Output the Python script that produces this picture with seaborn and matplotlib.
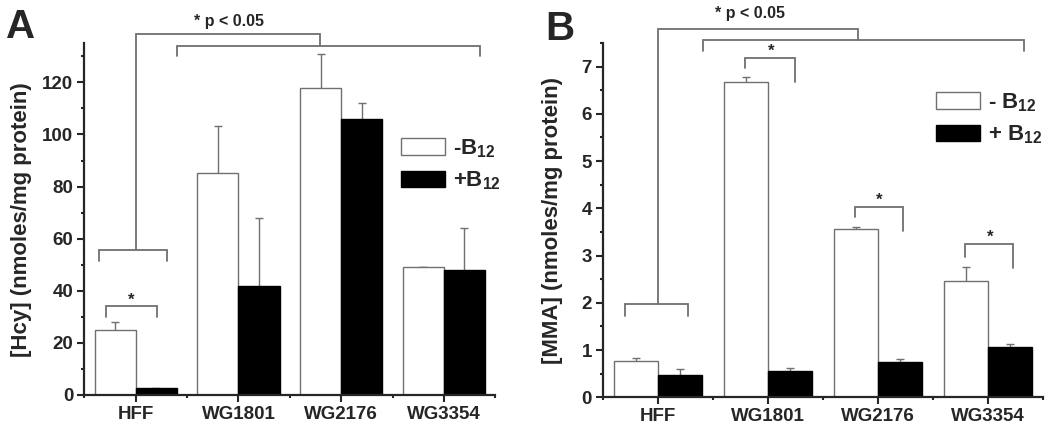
import numpy as np
import pandas as pd
import matplotlib
matplotlib.use("Agg")
import matplotlib.pyplot as plt
from matplotlib.ticker import MultipleLocator, AutoMinorLocator, FixedLocator
import seaborn as sns

# Datos
grupos = ['HFF', 'WG1801', 'WG2176', 'WG3354']
condiciones = ['-B12', '+B12']

hcy_menos = [25.1, 85.3, 117.9, 49.1]
hcy_menos_err = [3.1, 17.9, 12.9, 0.0]
hcy_mas = [2.6, 41.7, 106.0, 47.8]
hcy_mas_err = [0.2, 26.2, 6.0, 16.2]

mma_menos = [0.77, 6.68, 3.57, 2.46]
mma_menos_err = [0.07, 0.09, 0.03, 0.29]
mma_mas = [0.47, 0.565, 0.74, 1.07]
mma_mas_err = [0.13, 0.065, 0.08, 0.06]

sns.set_style("ticks")
plt.rcParams['font.family'] = ['Liberation Sans', 'DejaVu Sans']
plt.rcParams['font.weight'] = 'bold'
plt.rcParams['mathtext.default'] = 'regular'

GRIS = '#707070'


def corchete(ax, xs, ys):
    ax.plot(xs, ys, color=GRIS, lw=1.3, clip_on=False, solid_joinstyle='miter')


def panel(ax, menos, menos_err, mas, mas_err, ylabel, ymax, paso):
    df = pd.DataFrame({
        'celula': grupos * 2,
        'cond': [condiciones[0]] * 4 + [condiciones[1]] * 4,
        'valor': menos + mas,
    })
    sns.barplot(data=df, x='celula', y='valor', hue='cond', order=grupos,
                hue_order=condiciones, palette=['white', 'black'], saturation=1,
                errorbar=None, width=0.8, ax=ax, legend=False)
    for cont, edge, errs in zip(ax.containers, [GRIS, 'black'], [menos_err, mas_err]):
        xs, ys = [], []
        for p in cont:
            p.set_edgecolor(edge)
            p.set_linewidth(1.0)
            p.set_zorder(2)
            xs.append(p.get_x() + p.get_width() / 2)
            ys.append(p.get_height())
        ax.errorbar(xs, ys, yerr=errs, fmt='none', ecolor=GRIS, elinewidth=1,
                    capsize=3, capthick=1, zorder=1)

    ax.set_xlim(-0.5, 3.5)
    ax.set_ylim(0, ymax)
    ax.yaxis.set_major_locator(MultipleLocator(paso))
    ax.yaxis.set_minor_locator(AutoMinorLocator(2))
    ax.xaxis.set_minor_locator(FixedLocator([-0.5, 0.5, 1.5, 2.5, 3.5]))
    ax.set_xlabel('')
    ax.set_ylabel(ylabel, fontsize=16, fontweight='bold')
    sns.despine(ax=ax)
    for s in ['left', 'bottom']:
        ax.spines[s].set_linewidth(1.6)
    ax.tick_params(which='major', direction='out', length=5, width=1.5,
                   labelsize=13.5, pad=3)
    ax.tick_params(which='minor', direction='out', length=2.5, width=1.5)
    for lab in ax.get_xticklabels() + ax.get_yticklabels():
        lab.set_fontweight('bold')


fig = plt.figure(figsize=(10.5, 4.3), dpi=100)
axA = fig.add_axes([0.0803, 0.0814, 0.3914, 0.818])
axB = fig.add_axes([0.5743, 0.076, 0.419, 0.824])

panel(axA, hcy_menos, hcy_menos_err, hcy_mas, hcy_mas_err,
      '[Hcy] (nmoles/mg protein)', 135, 20)
panel(axB, mma_menos, mma_menos_err, mma_mas, mma_mas_err,
      '[MMA] (nmoles/mg protein)', 7.5, 1)
axA.yaxis.labelpad = 7
axB.yaxis.labelpad = 13

# Corchetes de significancia - panel A
corchete(axA, [0, 0, 1.79, 1.79], [55.8, 138.6, 138.6, 134.0])
corchete(axA, [0.40, 0.40, 3.35, 3.35], [130.1, 134.0, 134.0, 130.1])
corchete(axA, [-0.36, -0.36, 0.30, 0.30], [51.3, 55.8, 55.8, 51.3])
corchete(axA, [-0.29, -0.29, 0.21, 0.21], [30.1, 34.2, 34.2, 30.1])
axA.text(-0.04, 36.2, '*', ha='center', va='center', fontsize=12, fontweight='bold')
axA.text(0.91, 143.2, '* p < 0.05', ha='center', va='center', fontsize=11.5,
         fontweight='bold')

# Corchetes de significancia - panel B
corchete(axB, [0, 0, 1.82, 1.82], [1.97, 7.80, 7.80, 7.57])
corchete(axB, [0.41, 0.41, 3.33, 3.33], [7.33, 7.57, 7.57, 7.33])
corchete(axB, [-0.30, -0.30, 0.27, 0.27], [1.72, 1.97, 1.97, 1.72])
corchete(axB, [0.795, 0.795, 1.25, 1.25], [6.97, 7.18, 7.18, 6.67])
corchete(axB, [1.79, 1.79, 2.23, 2.23], [3.81, 4.03, 4.03, 3.52])
corchete(axB, [2.79, 2.79, 3.23, 3.23], [2.97, 3.24, 3.24, 2.73])
for xs, ys in [(1.03, 7.32), (2.01, 4.17), (3.02, 3.38)]:
    axB.text(xs, ys, '*', ha='center', va='center', fontsize=12, fontweight='bold')
axB.text(0.835, 8.12, '* p < 0.05', ha='center', va='center', fontsize=11.5,
         fontweight='bold')

# Leyendas
for ax, etiquetas, pos in [(axA, ['-B$_{12}$', '+B$_{12}$'], (401 / 1050, 1 - 137 / 430)),
                           (axB, ['- B$_{12}$', '+ B$_{12}$'], (936 / 1050, 1 - 91 / 430))]:
    handles = [ax.containers[0][0], ax.containers[1][0]]
    ax.legend(handles, etiquetas, loc='upper left', bbox_to_anchor=pos,
              bbox_transform=fig.transFigure, frameon=False,
              prop={'weight': 'bold', 'size': 16}, handlelength=2.0,
              handleheight=0.78, handletextpad=0.35, labelspacing=0.45,
              borderpad=0, borderaxespad=0)

fig.text(0.006, 1 - 38 / 430, 'A', fontsize=29, fontweight='bold', va='baseline')
fig.text(0.519, 1 - 40 / 430, 'B', fontsize=29, fontweight='bold', va='baseline')

fig.savefig('out.png', dpi=100)
